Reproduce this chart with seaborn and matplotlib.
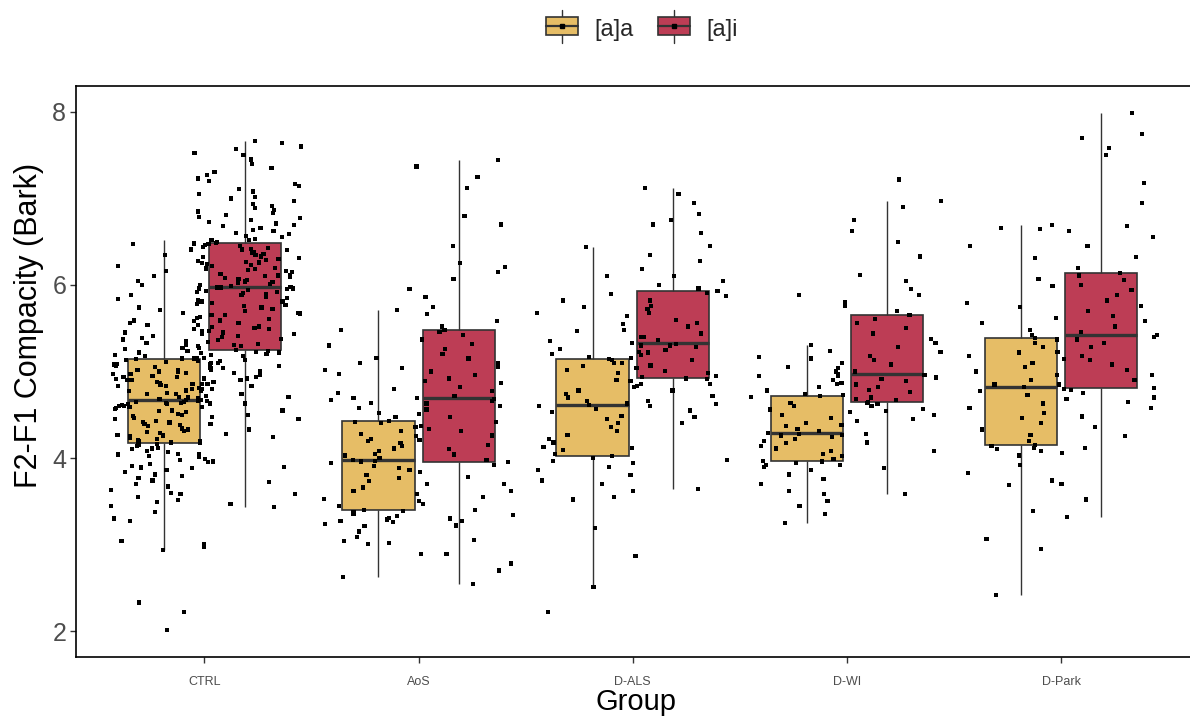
import numpy as np
import pandas as pd
import matplotlib
matplotlib.use("Agg")
import matplotlib.pyplot as plt
from matplotlib.patches import Patch, Rectangle
from matplotlib.lines import Line2D
from matplotlib.legend_handler import HandlerPatch
import seaborn as sns

groups = ["CTRL", "AoS", "D-ALS", "D-WI", "D-Park"]
vowels = ["[a]a", "[a]i"]
box_colors = ["#E6BD66", "#BD3D55"]

# F2-F1 compacity values (Bark) per group / vowel
ctrl_aa = [2.01, 2.22, 2.33, 2.94, 2.97, 3.01, 3.04, 3.27, 3.30, 3.38,
           3.45, 3.49, 3.51, 3.55, 3.58, 3.60, 3.63, 3.67, 3.70, 3.74,
           3.77, 3.79, 3.81, 3.84, 3.86, 3.88, 3.89, 3.91, 3.93, 3.95,
           3.96, 3.98, 3.99, 4.01, 4.02, 4.04, 4.05, 4.07, 4.08, 4.10,
           4.11, 4.12, 4.14, 4.15, 4.16,
           4.17,
           4.18, 4.19, 4.21, 4.22, 4.23, 4.25, 4.26, 4.27, 4.29, 4.30,
           4.31, 4.33, 4.34, 4.35, 4.37, 4.38, 4.39, 4.41, 4.42, 4.43,
           4.45, 4.46, 4.47, 4.49, 4.50, 4.51, 4.53, 4.54, 4.55, 4.57,
           4.58, 4.59, 4.60, 4.60, 4.61, 4.62, 4.62, 4.63, 4.64, 4.64,
           4.65, 4.65, 4.66, 4.66,
           4.67,
           4.68, 4.69, 4.70, 4.71, 4.72, 4.74, 4.74, 4.75, 4.77, 4.77,
           4.78, 4.80, 4.80, 4.81, 4.83, 4.83, 4.84, 4.86, 4.86, 4.87,
           4.88, 4.90, 4.90, 4.91, 4.92, 4.94, 4.94, 4.95, 4.97, 4.97,
           4.98, 4.99, 5.00, 5.02, 5.02, 5.04, 5.05, 5.07, 5.08, 5.09,
           5.10, 5.11, 5.12, 5.13,
           5.14,
           5.15, 5.16, 5.18, 5.19, 5.21, 5.22, 5.24, 5.26, 5.27, 5.29,
           5.31, 5.33, 5.35, 5.37, 5.39, 5.41, 5.43, 5.45, 5.47, 5.49,
           5.51, 5.54, 5.56, 5.59, 5.62, 5.65, 5.68, 5.71, 5.74, 5.78,
           5.81, 5.84, 5.88, 5.92, 5.96, 6.00, 6.05, 6.10, 6.16, 6.22,
           6.28, 6.35, 6.41, 6.47, 6.52]
ctrl_ai = [3.43, 3.47, 3.58, 3.72, 3.90, 4.05, 4.20, 4.24, 4.28, 4.33,
           4.39, 4.45, 4.50, 4.55, 4.59, 4.63, 4.67, 4.71, 4.74, 4.77,
           4.80, 4.83, 4.86, 4.88, 4.90, 4.92, 4.94, 4.96, 4.98, 5.00,
           5.02, 5.04, 5.06, 5.08, 5.10, 5.12, 5.13, 5.15, 5.16, 5.18,
           5.19, 5.20, 5.22, 5.23, 5.24,
           5.25,
           5.27, 5.29, 5.31, 5.32, 5.34, 5.36, 5.38, 5.40, 5.41, 5.43,
           5.45, 5.47, 5.49, 5.50, 5.52, 5.54, 5.56, 5.58, 5.59, 5.61,
           5.63, 5.65, 5.67, 5.68, 5.70, 5.72, 5.74, 5.76, 5.77, 5.79,
           5.81, 5.83, 5.85, 5.86, 5.88, 5.89, 5.91, 5.92, 5.93, 5.94,
           5.95, 5.96, 5.97, 5.97,
           5.98,
           5.99, 6.00, 6.01, 6.02, 6.03, 6.04, 6.06, 6.07, 6.08, 6.09,
           6.10, 6.11, 6.12, 6.13, 6.15, 6.16, 6.17, 6.18, 6.19, 6.20,
           6.22, 6.23, 6.24, 6.25, 6.26, 6.27, 6.29, 6.30, 6.31, 6.32,
           6.33, 6.35, 6.36, 6.37, 6.38, 6.40, 6.41, 6.42, 6.43, 6.44,
           6.45, 6.46, 6.47, 6.48,
           6.49,
           6.50, 6.52, 6.53, 6.55, 6.57, 6.59, 6.60, 6.62, 6.64, 6.66,
           6.68, 6.69, 6.71, 6.73, 6.75, 6.77, 6.79, 6.81, 6.83, 6.85,
           6.87, 6.89, 6.91, 6.94, 6.97, 7.00, 7.02, 7.05, 7.08, 7.11,
           7.14, 7.17, 7.20, 7.23, 7.27, 7.31, 7.35, 7.40, 7.45, 7.50,
           7.53, 7.57, 7.60, 7.64, 7.66]
aos_aa = [2.62, 2.89, 3.01, 3.02, 3.04, 3.09, 3.15, 3.21, 3.24, 3.26,
          3.27, 3.29, 3.31, 3.33, 3.35, 3.37, 3.39,
          3.40,
          3.45, 3.50, 3.53, 3.58, 3.62, 3.66, 3.70, 3.73, 3.77, 3.80,
          3.84, 3.88, 3.91, 3.94, 3.96, 3.97,
          3.98,
          4.00, 4.03, 4.05, 4.08, 4.11, 4.14, 4.17, 4.20, 4.22, 4.25,
          4.28, 4.31, 4.34, 4.37, 4.40, 4.42,
          4.43,
          4.47, 4.52, 4.58, 4.64, 4.67, 4.69, 4.75, 4.80, 4.89, 4.97,
          5.02, 5.04, 5.10, 5.16, 5.30, 5.48, 5.71]
aos_ai = [2.54, 2.70, 2.78, 2.89, 3.05, 3.22, 3.27, 3.30, 3.34, 3.40,
          3.47, 3.55, 3.62, 3.70, 3.78, 3.86, 3.92,
          3.95,
          3.98, 4.04, 4.10, 4.15, 4.21, 4.26, 4.31, 4.36, 4.42, 4.47,
          4.51, 4.56, 4.60, 4.63, 4.66, 4.68,
          4.69,
          4.72, 4.77, 4.82, 4.87, 4.92, 4.96, 5.00, 5.05, 5.10, 5.15,
          5.20, 5.26, 5.32, 5.37, 5.42, 5.46,
          5.48,
          5.52, 5.58, 5.66, 5.75, 5.86, 5.95, 6.07, 6.15, 6.21, 6.25,
          6.45, 6.70, 6.80, 7.12, 7.25, 7.37, 7.44]
als_aa = [2.22, 2.51, 2.87, 3.19, 3.52, 3.55, 3.62, 3.70, 3.74, 3.80,
          3.86, 3.90, 3.94, 3.97, 4.00,
          4.02,
          4.05, 4.09, 4.13, 4.18, 4.22, 4.27, 4.31, 4.36, 4.40, 4.45,
          4.49, 4.53, 4.57, 4.60,
          4.61,
          4.63, 4.66, 4.70, 4.74, 4.78, 4.82, 4.86, 4.90, 4.94, 4.98,
          5.02, 5.06, 5.10, 5.13,
          5.14,
          5.17, 5.20, 5.23, 5.26, 5.30, 5.35, 5.40, 5.47, 5.55, 5.68,
          5.75, 5.82, 5.90, 6.10, 6.44]
als_ai = [3.64, 3.98, 4.12, 4.40, 4.47, 4.55, 4.60, 4.62, 4.66, 4.72,
          4.78, 4.83, 4.86, 4.89, 4.91,
          4.92,
          4.95, 4.98, 5.01, 5.04, 5.07, 5.10, 5.13, 5.16, 5.19, 5.22,
          5.25, 5.28, 5.30, 5.32,
          5.33,
          5.36, 5.40, 5.44, 5.48, 5.52, 5.56, 5.60, 5.64, 5.68, 5.72,
          5.76, 5.82, 5.87, 5.91,
          5.93,
          5.96, 6.00, 6.05, 6.10, 6.18, 6.28, 6.35, 6.45, 6.60, 6.70,
          6.75, 6.82, 6.95, 7.05, 7.12]
wi_aa = [3.25, 3.35, 3.45, 3.50, 3.58, 3.62, 3.70, 3.76, 3.81, 3.86,
         3.90, 3.92, 3.94, 3.96,
         3.97,
         3.99, 4.02, 4.05, 4.08, 4.11, 4.14, 4.17, 4.20, 4.22, 4.24,
         4.26, 4.27, 4.28,
         4.29,
         4.31, 4.34, 4.37, 4.40, 4.43, 4.46, 4.50, 4.53, 4.56, 4.60,
         4.64, 4.68, 4.71,
         4.72,
         4.74, 4.78, 4.82, 4.86, 4.90, 4.95, 5.00, 5.05, 5.10, 5.15,
         5.17, 5.24, 5.31, 5.88]
wi_ai = [3.58, 3.88, 3.92, 4.08, 4.18, 4.28, 4.38, 4.45, 4.50, 4.54,
         4.57, 4.60, 4.62, 4.64,
         4.65,
         4.67, 4.70, 4.73, 4.76, 4.79, 4.82, 4.85, 4.87, 4.89, 4.91,
         4.93, 4.95, 4.96,
         4.97,
         5.00, 5.04, 5.08, 5.13, 5.18, 5.23, 5.28, 5.33, 5.38, 5.44,
         5.50, 5.56, 5.61,
         5.65,
         5.70, 5.76, 5.80, 5.88, 5.95, 6.05, 6.12, 6.33, 6.50, 6.62,
         6.75, 6.90, 6.97, 7.22]
park_aa = [2.42, 2.95, 3.06, 3.39, 3.69, 3.83, 3.92, 4.03, 4.06, 4.08,
           4.10, 4.12, 4.14,
           4.15,
           4.20, 4.27, 4.33, 4.40, 4.46, 4.52, 4.58, 4.63, 4.68, 4.73,
           4.77, 4.80,
           4.82,
           4.85, 4.90, 4.96, 5.00, 5.05, 5.10, 5.14, 5.18, 5.22, 5.28,
           5.33, 5.37,
           5.39,
           5.42, 5.48, 5.56, 5.62, 5.75, 5.79, 5.99, 6.07, 6.31, 6.45,
           6.65, 6.66, 6.69]
park_ai = [3.32, 3.52, 3.70, 3.74, 4.12, 4.25, 4.36, 4.48, 4.58, 4.65,
           4.70, 4.75, 4.79,
           4.81,
           4.85, 4.90, 4.96, 5.02, 5.08, 5.13, 5.18, 5.23, 5.28, 5.33,
           5.37, 5.40,
           5.42,
           5.46, 5.52, 5.58, 5.64, 5.70, 5.76, 5.82, 5.88, 5.94, 6.00,
           6.06, 6.11,
           6.14,
           6.20, 6.32, 6.45, 6.55, 6.62, 6.68, 6.95, 7.18, 7.50, 7.58,
           7.70, 7.75, 7.99]

series = {
    ("CTRL", "[a]a"): ctrl_aa, ("CTRL", "[a]i"): ctrl_ai,
    ("AoS", "[a]a"): aos_aa, ("AoS", "[a]i"): aos_ai,
    ("D-ALS", "[a]a"): als_aa, ("D-ALS", "[a]i"): als_ai,
    ("D-WI", "[a]a"): wi_aa, ("D-WI", "[a]i"): wi_ai,
    ("D-Park", "[a]a"): park_aa, ("D-Park", "[a]i"): park_ai,
}
rows = [(g, v, y) for (g, v), vals in series.items() for y in vals]
df = pd.DataFrame(rows, columns=["Group", "Vowel", "Compacity"])


class BoxKey(HandlerPatch):
    # ggplot-like boxplot legend key
    def create_artists(self, legend, orig, xd, yd, w, h, fontsize, trans):
        cx, cy = xd + w / 2, yd + h / 2
        whisk = Line2D([cx, cx], [yd - 0.4 * h, yd + 1.4 * h], color="#333333", lw=1.0, transform=trans)
        box = Rectangle((xd, yd), w, h, facecolor=orig.get_facecolor(),
                        edgecolor="#333333", lw=1.2, transform=trans)
        med = Line2D([xd, xd + w], [cy, cy], color="#333333", lw=1.6, transform=trans)
        dot = Line2D([cx], [cy], marker="s", ms=2.6, color="black", lw=0, transform=trans)
        return [whisk, box, med, dot]


sns.set_theme(style="white")
plt.rcParams["font.family"] = ["Liberation Sans", "DejaVu Sans"]

fig = plt.figure(figsize=(11.9, 7.24), dpi=100)
ax = fig.add_axes([76 / 1190, 67 / 724, 1120 / 1190, 571 / 724])

sns.boxplot(data=df, x="Group", y="Compacity", hue="Vowel", order=groups, hue_order=vowels,
            palette=box_colors, saturation=1, width=0.75, gap=0.1, showfliers=False,
            showcaps=False, linecolor="#333333", linewidth=1.2,
            medianprops={"linewidth": 2.4}, whiskerprops={"linewidth": 1.0},
            legend=False, ax=ax)

np.random.seed(3)
sns.stripplot(data=df, x="Group", y="Compacity", hue="Vowel", order=groups, hue_order=vowels,
              palette=["black", "black"], dodge=True, jitter=0.5, size=3.0, marker="s",
              linewidth=0, legend=False, zorder=3, ax=ax)

ax.set_xlim(-0.6, 4.63)
ax.set_ylim(1.7, 8.3)
ax.set_yticks([2, 4, 6, 8])
ax.set_xlabel("Group", fontsize=21, color="black")
ax.set_ylabel("F2-F1 Compacity (Bark)", fontsize=22, color="black")
ax.xaxis.set_label_coords(0.5, -0.054)
ax.yaxis.set_label_coords(-0.029, 0.58)
ax.tick_params(axis="y", labelsize=18, labelcolor="#4D4D4D", length=4, width=1, color="#333333", direction="out", left=True, pad=3)
ax.tick_params(axis="x", labelsize=9, labelcolor="#4D4D4D", length=4, width=1, color="#333333", direction="out", bottom=True, pad=10)
for sp in ax.spines.values():
    sp.set_visible(True)
    sp.set_color("black")
    sp.set_linewidth(1.2)

handles = [Patch(facecolor=c, label=v) for c, v in zip(box_colors, vowels)]
fig.legend(handles=handles, loc="center", bbox_to_anchor=(642 / 1190, 1 - 30 / 724), ncol=2,
           frameon=False, fontsize=17, handlelength=1.35, handleheight=0.8, handletextpad=0.7,
           columnspacing=1.0, handler_map={Patch: BoxKey()})

fig.savefig("out.png", dpi=100)
